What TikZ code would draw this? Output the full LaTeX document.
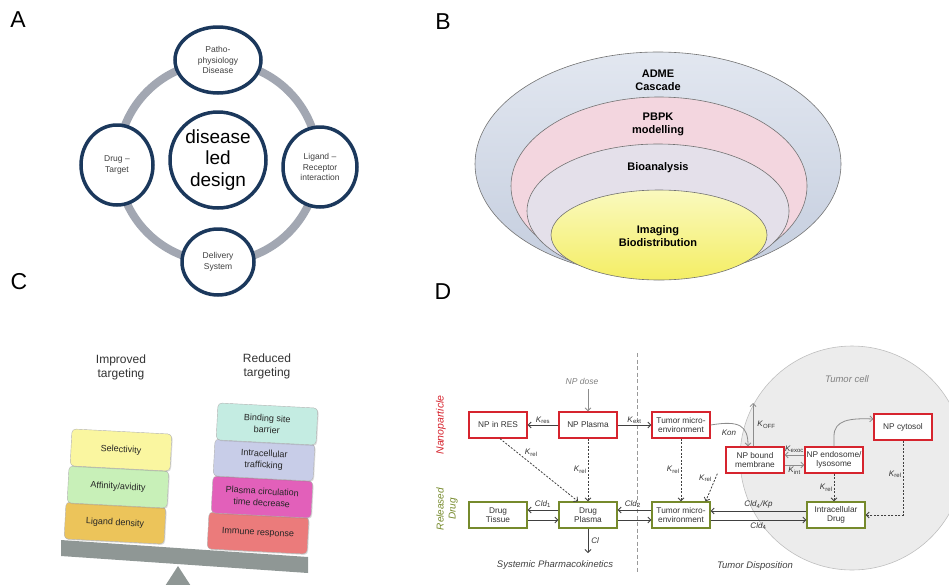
\documentclass[tikz,border=0pt]{standalone}
\usepackage{fontspec}
\setmainfont{Liberation Sans}
\usetikzlibrary{arrows.meta,positioning,shapes.geometric,shadows}
\definecolor{navy}{RGB}{27,56,92}
\definecolor{ringgray}{RGB}{162,167,178}
\definecolor{admetop}{RGB}{226,231,240}
\definecolor{admebot}{RGB}{196,205,222}
\definecolor{pbpk}{RGB}{243,214,223}
\definecolor{bioan}{RGB}{228,224,234}
\definecolor{imgtop}{RGB}{250,249,190}
\definecolor{imgbot}{RGB}{244,238,100}
\definecolor{beamgray}{RGB}{143,151,149}
\definecolor{selcol}{RGB}{250,246,160}
\definecolor{affcol}{RGB}{200,240,184}
\definecolor{ligcol}{RGB}{236,196,90}
\definecolor{bindcol}{RGB}{196,236,226}
\definecolor{tracol}{RGB}{200,205,232}
\definecolor{placol}{RGB}{226,96,186}
\definecolor{immcol}{RGB}{235,123,123}
\definecolor{npred}{RGB}{214,36,46}
\definecolor{drugolive}{RGB}{118,138,44}
\definecolor{cellgray}{RGB}{236,236,236}
\newcommand{\kr}[1]{\textit{K}\textsubscript{#1}}
\newcommand{\cld}[1]{\textit{Cld}\textsubscript{#1}}
\newcommand{\fsz}[2]{\fontsize{#1}{#2}\selectfont}

\begin{document}
\begin{tikzpicture}[x=1pt,y=-1pt,
    panel/.style={font=\fsz{23}{26}},
    spoke/.style={ellipse,draw=navy,line width=3.5pt,fill=white,inner sep=0pt,
                  align=center,text=black!75,font=\fsz{8.5}{10.5}},
    hub/.style={circle,draw=navy,line width=3.5pt,fill=white,minimum size=96pt,
                inner sep=0pt,align=center,font=\fsz{19}{21.5}},
    shell/.style={draw=black!55,line width=0.6pt},
    layer/.style={align=center,font=\fsz{11}{13}\bfseries},
    weight/.style={draw=black!30,rounded corners=4pt,minimum width=100pt,
                   minimum height=37pt,align=center,rotate=-3,text=black!85,
                   inner sep=2pt,font=\fsz{9}{11.5},
                   drop shadow={opacity=0.25,shadow xshift=1pt,shadow yshift=-1pt}},
    side/.style={align=center,text=black!80,font=\fsz{12}{14}},
    npbox/.style={draw=npred,line width=1.3pt,fill=white,minimum width=58pt,
                  minimum height=26pt,align=center,inner sep=1pt,text=black!80,
                  font=\fsz{8.3}{9.5}},
    drugbox/.style={npbox,draw=drugolive},
    arr/.style={-{Straight Barb[length=3pt,width=6pt]},line width=0.8pt,black!75},
    garr/.style={arr,black!45},
    darr/.style={arr,dash pattern=on 2pt off 1.5pt},
    rate/.style={inner sep=1pt,text=black!80,font=\fsz{8}{9}},
    note/.style={text=black!75,font=\fsz{9.5}{11}\itshape}
  ]
  \useasboundingbox (0,0) rectangle (949,584);

  % panel letters
  \node[panel] (la) at (18,20) {A};
  \node[panel] (lb) at (443,22) {B};
  \node[panel] (lc) at (19,282) {C};
  \node[panel] (ld) at (443,292) {D};

  % A: design cycle
  \draw[ringgray,line width=8pt] (218,162) circle[radius=100];
  \node[hub] (hub) at (218,160) {disease\\led\\design};
  \node[spoke,minimum width=86pt,minimum height=66pt] (patho) at (218,60) {Patho-\\physiology\\Disease};
  \node[spoke,minimum width=72pt,minimum height=80pt] (target) at (117,165) {Drug --\\Target};
  \node[spoke,minimum width=74pt,minimum height=80pt] (ligand) at (320,167) {Ligand --\\Receptor\\interaction};
  \node[spoke,minimum width=72pt,minimum height=66pt] (deliv) at (218,262) {Delivery\\System};

  % B: nested ellipses
  \draw[shell,top color=admetop,bottom color=admebot] (658,164) ellipse[x radius=183,y radius=112];
  \draw[shell,fill=pbpk] (659,186) ellipse[x radius=148,y radius=89];
  \draw[shell,fill=bioan] (658,211) ellipse[x radius=131,y radius=67];
  \draw[shell,top color=imgtop,bottom color=imgbot] (659,235) ellipse[x radius=108,y radius=45];
  \node[layer] (adme) at (658,80) {ADME\\Cascade};
  \node[layer] (pbpkl) at (658,124) {PBPK\\modelling};
  \node[layer] (bioa) at (658,168) {Bioanalysis};
  \node[layer] (imag) at (658,236) {Imaging\\Biodistribution};

  % C: balance
  \node[side] (impr) at (121,367) {Improved\\targeting};
  \node[side] (redu) at (267,366) {Reduced\\targeting};
  \fill[beamgray] (61,540) -- (308,557) -- (308,573) -- (61,556) -- cycle;
  \fill[beamgray] (178,566) -- (200,600) -- (156,600) -- cycle;
  \node[weight,fill=ligcol] (lig) at (115,523) {Ligand density};
  \node[weight,fill=affcol] (aff) at (118,487) {Affinity/avidity};
  \node[weight,fill=selcol] (sel) at (121,450) {Selectivity};
  \node[weight,fill=immcol] (imm) at (258,533) {Immune response};
  \node[weight,fill=placol] (pla) at (262,497) {Plasma circulation\\time decrease};
  \node[weight,fill=tracol] (tra) at (264,460) {Intracellular\\trafficking};
  \node[weight,fill=bindcol] (bind) at (267,424) {Binding site\\barrier};

  % D: compartments
  \fill[cellgray] (852,458) circle[radius=112];
  \draw[black!25,line width=0.6pt] (852,458) circle[radius=112];
  \node[text=black!50,font=\fsz{9.5}{11}\itshape] (cell) at (847,379) {Tumor cell};
  \draw[black!40,line width=0.8pt,dash pattern=on 4pt off 2.5pt] (637,353) -- (637,573);

  \node[rotate=90,text=npred,font=\fsz{10.5}{12}\itshape] (nano) at (441,425) {Nanoparticle};
  \node[rotate=90,align=center,text=drugolive,font=\fsz{10}{12}\itshape] (reld) at (447,509) {Released\\Drug};

  \node[npbox] (res) at (498,425) {NP in RES};
  \node[npbox] (npp) at (588,425) {NP Plasma};
  \node[npbox] (tmr) at (681,425) {Tumor micro-\\environment};
  \node[npbox] (bound) at (755,460) {NP bound\\membrane};
  \node[npbox] (endo) at (834,460) {NP endosome/\\lysosome};
  \node[npbox] (cyto) at (903,427) {NP cytosol};
  \node[drugbox] (tis) at (498,515) {Drug\\Tissue};
  \node[drugbox] (dpl) at (588,515) {Drug\\Plasma};
  \node[drugbox] (tmg) at (681,515) {Tumor micro-\\environment};
  \node[drugbox] (icd) at (836,515) {Intracellular\\Drug};

  \node[text=black!50,font=\fsz{8.5}{9}\itshape] (dose) at (582,381) {NP dose};
  \draw[garr] (588,389) -- (npp.north);
  \draw[arr] (npp.west) -- node[rate,above] {\kr{res}} (res.east);
  \draw[arr] (npp.east) -- node[rate,above] {\kr{ext}} (tmr.west);

  % flows between the drug compartments
  \draw[arr] ([yshift=5pt]tis.east -| dpl.west) -- node[rate,above=1pt] {\cld{1}} ([yshift=5pt]tis.east);
  \draw[arr] ([yshift=-5pt]tis.east) -- ([yshift=-5pt]tis.east -| dpl.west);
  \draw[arr] ([yshift=5pt]tmg.west) -- node[rate,above=1pt,pos=0.55] {\cld{2}} ([yshift=5pt]tmg.west -| dpl.east);
  \draw[arr] ([yshift=-5pt]tmg.west -| dpl.east) -- ([yshift=-5pt]tmg.west);
  \coordinate (clend) at (588,553);
  \draw[arr] (dpl.south) -- node[rate,right=2pt] {\textit{Cl}} (clend);

  % release of drug
  \draw[darr] ([xshift=2pt]res.south) -- node[rate,above right,pos=0.3] {\kr{rel}} ([xshift=-10pt]dpl.north);
  \draw[darr] (npp.south) -- node[rate,left] {\kr{rel}} (dpl.north);
  \draw[darr] (tmr.south) -- node[rate,left] {\kr{rel}} (tmg.north);
  \draw[darr] ([xshift=-8pt]bound.south west) -- node[rate,above left,pos=0.35] {\kr{rel}} ([xshift=-5pt]tmg.north east);

  % uptake into the cell
  \draw[garr] (tmr.east) .. controls (740,420) and (748,426) .. (bound.north -| 748,0);
  \node[rate] (kon) at (729,433) {\textit{Kon}};
  \coordinate (offend) at (753,403);
  \draw[garr] (bound.north -| offend) -- node[rate,right=3pt,pos=0.5] {\kr{OFF}} (offend);
  \draw[garr] ([yshift=5pt]endo.west) -- node[rate,above=1pt] {\kr{exoc}} ([yshift=5pt]bound.east);
  \draw[garr] ([yshift=-5pt]bound.east) -- node[rate,below=1pt] {\kr{int}} ([yshift=-5pt]endo.west);
  \draw[garr] (endo.north) -- (834,436) .. controls (834,420) and (850,418) .. (cyto.west |- 0,419);
  \draw[darr] (endo.south) -- node[rate,left] {\kr{rel}} (endo.south |- icd.north);
  \draw[darr] (cyto.south) -- node[rate,left,pos=0.45] {\kr{rel}} (cyto.south |- icd.east) -- (icd.east);

  \draw[arr] ([yshift=4pt]icd.west) -- node[rate,above=1pt] {\cld{4}\textit{/Kp}} ([yshift=4pt]tmg.east);
  \draw[arr] ([yshift=-5pt]tmg.east) -- node[rate,below=1pt] {\cld{4}} ([yshift=-5pt]icd.west);

  \node[note] (spk) at (555,565) {Systemic Pharmacokinetics};
  \node[note] (tdis) at (755,566) {Tumor Disposition};
\end{tikzpicture}
\end{document}
